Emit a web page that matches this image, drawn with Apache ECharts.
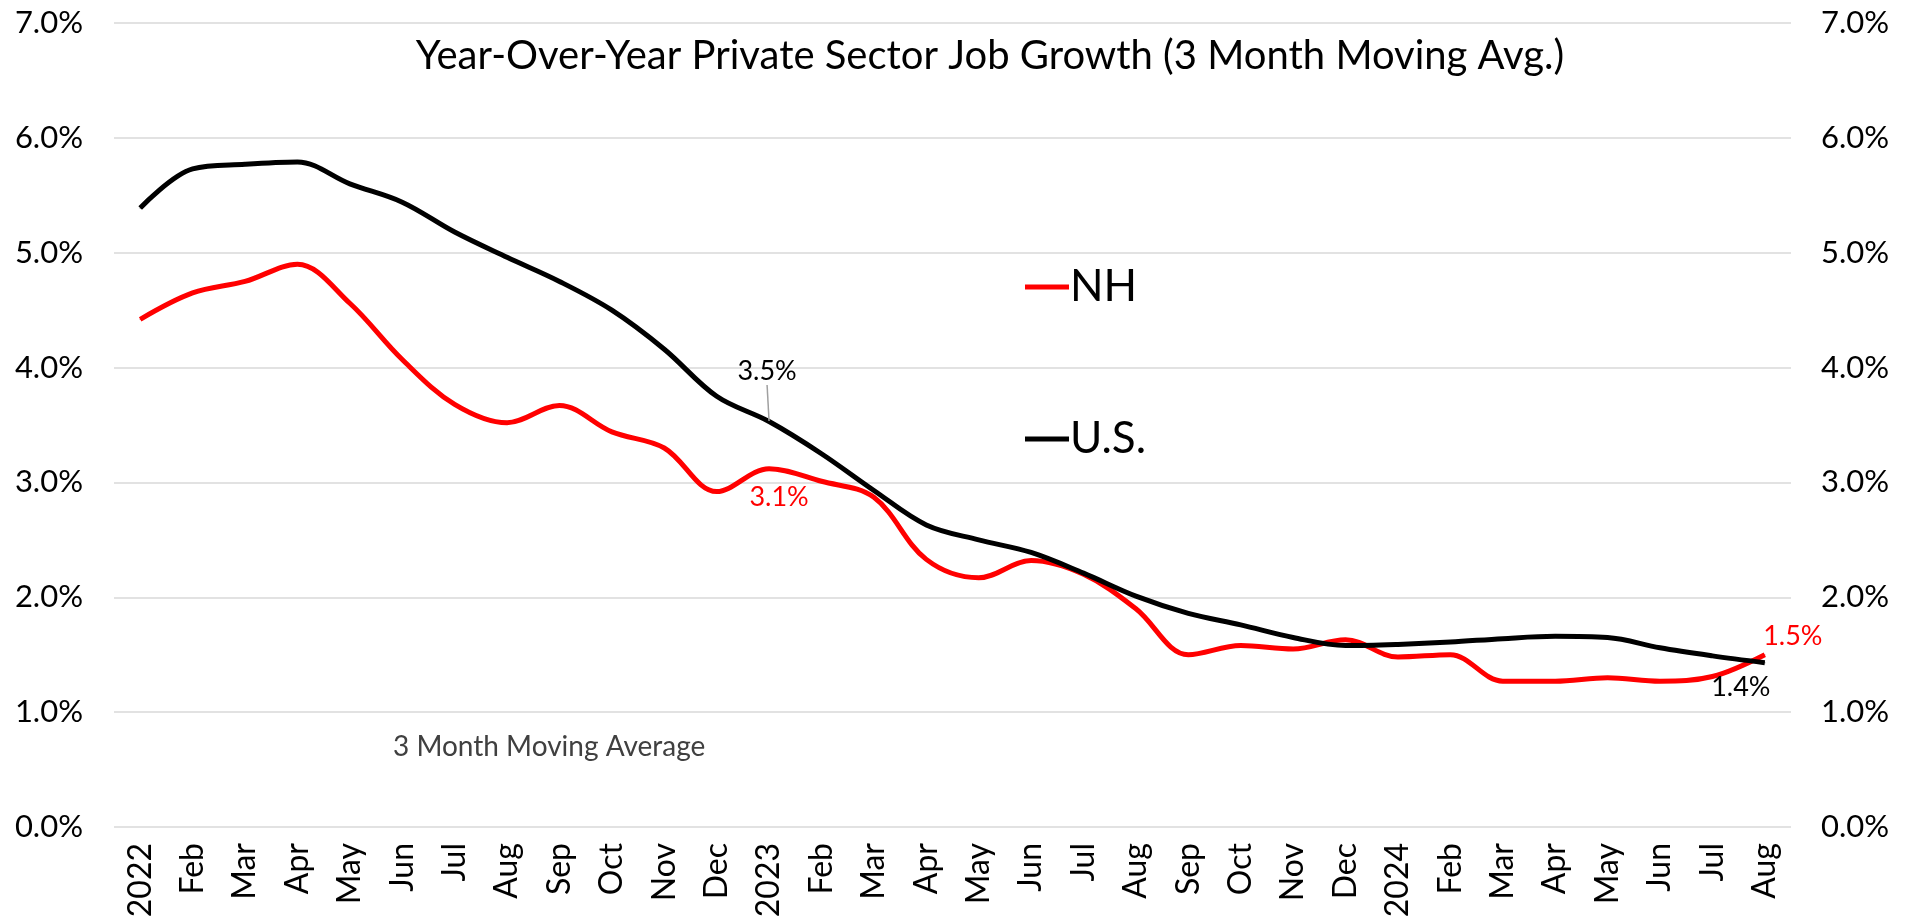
<!DOCTYPE html>
<html>
<head>
<meta charset="utf-8">
<script src="https://cdn.jsdelivr.net/npm/echarts@6/dist/echarts.min.js"></script>
<style>
html,body{margin:0;padding:0;background:#fff;}
#c{width:1916px;height:921px;}
</style>
</head>
<body>
<div id="c"></div>
<script>
const categories = ['2022','Feb','Mar','Apr','May','Jun','Jul','Aug','Sep','Oct','Nov','Dec',
  '2023','Feb','Mar','Apr','May','Jun','Jul','Aug','Sep','Oct','Nov','Dec',
  '2024','Feb','Mar','Apr','May','Jun','Jul','Aug'];
const nh = [4.42,4.65,4.75,4.90,4.56,4.07,3.68,3.52,3.67,3.44,3.30,2.92,
  3.12,3.01,2.87,2.33,2.17,2.32,2.20,1.90,1.50,1.58,1.55,1.63,
  1.48,1.50,1.27,1.27,1.30,1.27,1.31,1.50];
const us = [5.39,5.73,5.77,5.79,5.60,5.44,5.18,4.96,4.75,4.50,4.16,3.75,
  3.53,3.25,2.93,2.63,2.50,2.39,2.21,2.01,1.86,1.76,1.65,1.58,
  1.59,1.61,1.64,1.66,1.65,1.56,1.49,1.43];
const yTicks = [0,1,2,3,4,5,6,7];

const FONT = 'Lato';
const pct = v => v.toFixed(1) + '%';

// which points carry a value label, and how they are placed
const labelSpec = {
  'U.S.': {12: {dx: -2, dy: -50, line: true}, 31: {dx: -24, dy: 25}},
  'NH':   {12: {dx: 10, dy: 29}, 31: {dx: 28, dy: -18}}
};

function build(name, arr, color) {
  return {
    name: name,
    type: 'line',
    smooth: 0.35,
    showSymbol: true,
    symbol: 'circle',
    symbolSize: 1,
    z: name === 'NH' ? 3 : 4,
    lineStyle: {color: color, width: 5},
    itemStyle: {color: color},
    label: {show: false},
    emphasis: {disabled: true},
    data: arr.map((v, i) => {
      const s = labelSpec[name][i];
      if (!s) return v;
      return {
        value: v,
        label: {
          show: true, position: 'inside', formatter: p => pct(p.value),
          color: color, fontFamily: FONT, fontSize: 27
        },
        labelLine: s.line ? {show: true, lineStyle: {color: '#a0a0a0', width: 1.5}} : {show: false}
      };
    }),
    labelLayout: p => {
      const s = labelSpec[name][p.dataIndex];
      return s ? {dx: s.dx, dy: s.dy} : {};
    }
  };
}

const chart = echarts.init(document.getElementById('c'), null, {renderer: 'canvas'});
chart.setOption({
  animation: false,
  backgroundColor: '#fff',
  title: {
    text: 'Year-Over-Year Private Sector Job Growth (3 Month Moving Avg.)',
    left: 985, top: 31, textAlign: 'center',
    textStyle: {fontFamily: FONT, fontWeight: 'normal', fontSize: 40, color: '#000'}
  },
  legend: {
    orient: 'vertical',
    left: 1020, top: 260,
    itemGap: 108,
    itemWidth: 44, itemHeight: 5,
    icon: 'rect',
    data: [{name: 'NH'}, {name: 'U.S.'}],
    textStyle: {fontFamily: FONT, fontSize: 44, color: '#000', padding: [0, 0, 0, -4]}
  },
  graphic: [{
    type: 'text', left: 393, top: 733,
    style: {text: '3 Month Moving Average', font: '28px Lato', fill: '#404040'}
  }],
  grid: {left: 114, right: 125, top: 23, bottom: 94},
  xAxis: {
    type: 'category',
    data: categories,
    boundaryGap: true,
    axisLine: {show: false},
    axisTick: {show: false},
    axisLabel: {rotate: 90, fontFamily: FONT, fontSize: 32, color: '#000', margin: 16, interval: 0}
  },
  yAxis: [{
    type: 'value', min: yTicks[0], max: yTicks[yTicks.length - 1], interval: 1,
    axisLine: {show: false}, axisTick: {show: false},
    axisLabel: {formatter: pct, fontFamily: FONT, fontSize: 31, color: '#000', margin: 31},
    splitLine: {lineStyle: {color: '#d9d9d9', width: 1.5}}
  }, {
    type: 'value', position: 'right', min: yTicks[0], max: yTicks[yTicks.length - 1], interval: 1,
    axisLine: {show: false}, axisTick: {show: false},
    axisLabel: {formatter: pct, fontFamily: FONT, fontSize: 31, color: '#000', margin: 30},
    splitLine: {show: false}
  }],
  series: [build('NH', nh, '#ff0000'), build('U.S.', us, '#000000')]
});
</script>
</body>
</html>
